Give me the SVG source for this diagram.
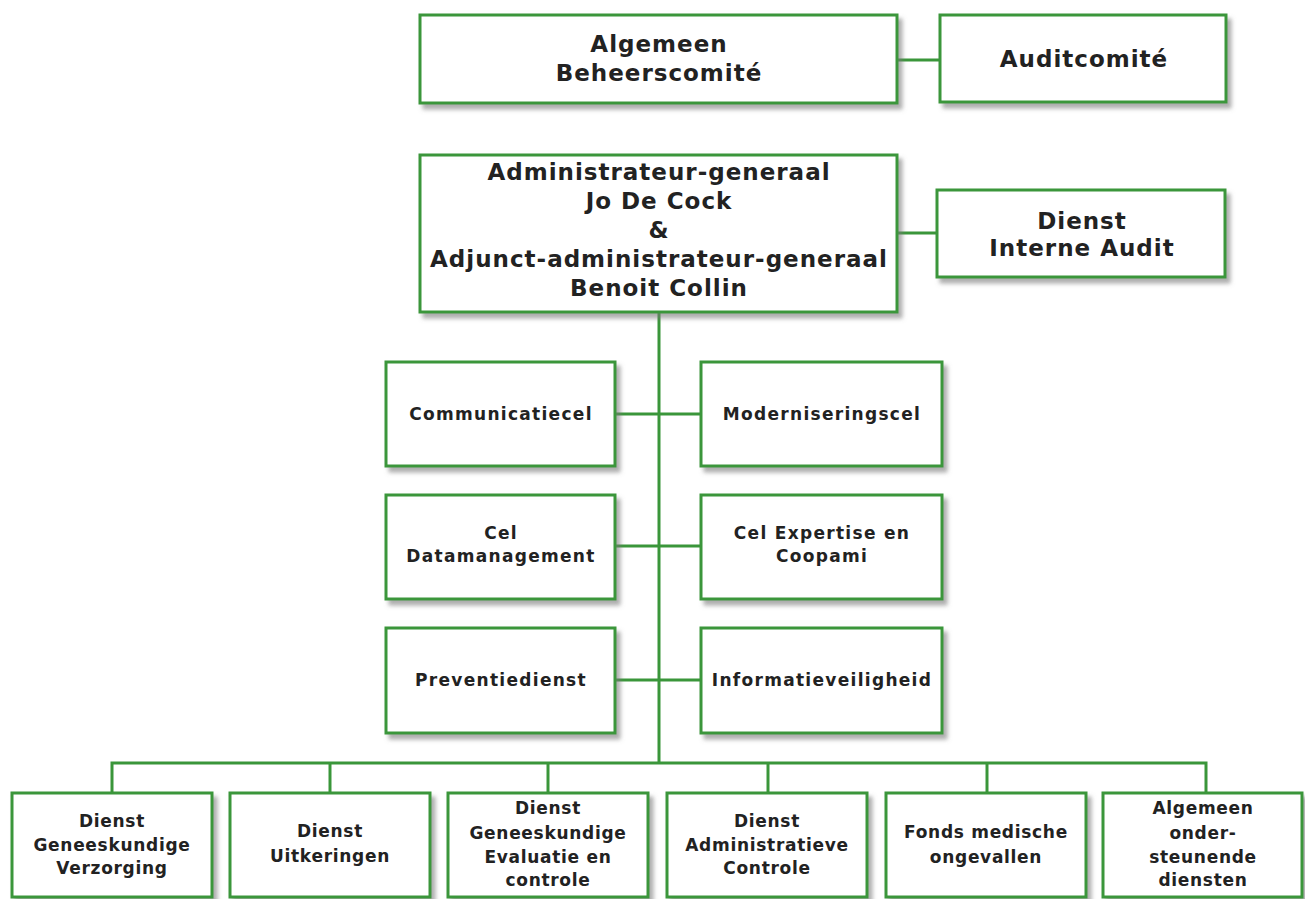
<svg xmlns="http://www.w3.org/2000/svg" width="1305" height="899" viewBox="0 0 1305 899">
<defs>
<filter id="sh" x="-10%" y="-10%" width="130%" height="140%">
<feDropShadow dx="4" dy="5" stdDeviation="2" flood-color="#777" flood-opacity="0.6"/>
</filter>
</defs>
<style>
.box{fill:#fff;stroke:#3a963a;stroke-width:3;filter:url(#sh)}
.ln{stroke:#3a963a;stroke-width:3;fill:none}
text{font-family:"DejaVu Sans","Liberation Sans",sans-serif;font-weight:bold;fill:#222;text-anchor:middle}
.t20{font-size:23px;letter-spacing:1px}
.t15{font-size:17px;letter-spacing:1.3px}
.t16{font-size:17px;letter-spacing:0.7px}
</style>
<rect width="1305" height="899" fill="#fff"/>
<g id="connectors">
<line class="ln" x1="897" y1="60" x2="940" y2="60"/>
<line class="ln" x1="897" y1="233" x2="937" y2="233"/>
<line class="ln" x1="659" y1="312" x2="659" y2="763"/>
<line class="ln" x1="615" y1="414" x2="701" y2="414"/>
<line class="ln" x1="615" y1="546" x2="701" y2="546"/>
<line class="ln" x1="615" y1="680" x2="701" y2="680"/>
<polyline class="ln" points="112,793 112,763 1206,763 1206,793"/>
<line class="ln" x1="330" y1="763" x2="330" y2="793"/>
<line class="ln" x1="548" y1="763" x2="548" y2="793"/>
<line class="ln" x1="768" y1="763" x2="768" y2="793"/>
<line class="ln" x1="987" y1="763" x2="987" y2="793"/>
</g>
<g id="n-algemeen">
<rect class="box" x="420" y="15" width="477" height="88"/>
<text class="t20" x="659" y="52">Algemeen</text>
<text class="t20" x="659" y="81">Beheerscomité</text>
</g>
<g id="n-auditcomite">
<rect class="box" x="940" y="15" width="286" height="87"/>
<text class="t20" x="1084" y="67">Auditcomité</text>
</g>
<g id="n-admin">
<rect class="box" x="420" y="155" width="477" height="157"/>
<text class="t20" x="659" y="180">Administrateur-generaal</text>
<text class="t20" x="659" y="209">Jo De Cock</text>
<text class="t20" x="659" y="238">&amp;</text>
<text class="t20" x="659" y="267">Adjunct-administrateur-generaal</text>
<text class="t20" x="659" y="296">Benoit Collin</text>
</g>
<g id="n-interne-audit">
<rect class="box" x="937" y="190" width="288" height="87"/>
<text class="t20" x="1082" y="229">Dienst</text>
<text class="t20" x="1082" y="256">Interne Audit</text>
</g>
<g id="n-communicatiecel">
<rect class="box" x="386" y="362" width="229" height="104"/>
<text class="t15" x="501" y="420">Communicatiecel</text>
</g>
<g id="n-moderniseringscel">
<rect class="box" x="701" y="362" width="241" height="104"/>
<text class="t15" x="822" y="420">Moderniseringscel</text>
</g>
<g id="n-datamanagement">
<rect class="box" x="386" y="495" width="229" height="104"/>
<text class="t15" x="501" y="539">Cel</text>
<text class="t15" x="501" y="562">Datamanagement</text>
</g>
<g id="n-expertise">
<rect class="box" x="701" y="495" width="241" height="104"/>
<text class="t15" x="822" y="539">Cel Expertise en</text>
<text class="t15" x="822" y="562">Coopami</text>
</g>
<g id="n-preventiedienst">
<rect class="box" x="386" y="628" width="229" height="105"/>
<text class="t15" x="501" y="686">Preventiedienst</text>
</g>
<g id="n-informatieveiligheid">
<rect class="box" x="701" y="628" width="241" height="105"/>
<text class="t15" x="822" y="686">Informatieveiligheid</text>
</g>
<g id="n-verzorging">
<rect class="box" x="12" y="793" width="200" height="104"/>
<text class="t16" x="112" y="827">Dienst</text>
<text class="t16" x="112" y="851">Geneeskundige</text>
<text class="t16" x="112" y="874">Verzorging</text>
</g>
<g id="n-uitkeringen">
<rect class="box" x="230" y="793" width="200" height="104"/>
<text class="t16" x="330" y="837">Dienst</text>
<text class="t16" x="330" y="862">Uitkeringen</text>
</g>
<g id="n-evaluatie">
<rect class="box" x="448" y="793" width="200" height="104"/>
<text class="t16" x="548" y="814">Dienst</text>
<text class="t16" x="548" y="839">Geneeskundige</text>
<text class="t16" x="548" y="863">Evaluatie en</text>
<text class="t16" x="548" y="886">controle</text>
</g>
<g id="n-administratieve">
<rect class="box" x="667" y="793" width="200" height="104"/>
<text class="t16" x="767" y="827">Dienst</text>
<text class="t16" x="767" y="851">Administratieve</text>
<text class="t16" x="767" y="874">Controle</text>
</g>
<g id="n-fonds">
<rect class="box" x="886" y="793" width="200" height="104"/>
<text class="t16" x="986" y="838">Fonds medische</text>
<text class="t16" x="986" y="863">ongevallen</text>
</g>
<g id="n-ondersteunende">
<rect class="box" x="1103" y="793" width="199" height="104"/>
<text class="t16" x="1203" y="814">Algemeen</text>
<text class="t16" x="1203" y="839">onder-</text>
<text class="t16" x="1203" y="863">steunende</text>
<text class="t16" x="1203" y="886">diensten</text>
</g>
</svg>
